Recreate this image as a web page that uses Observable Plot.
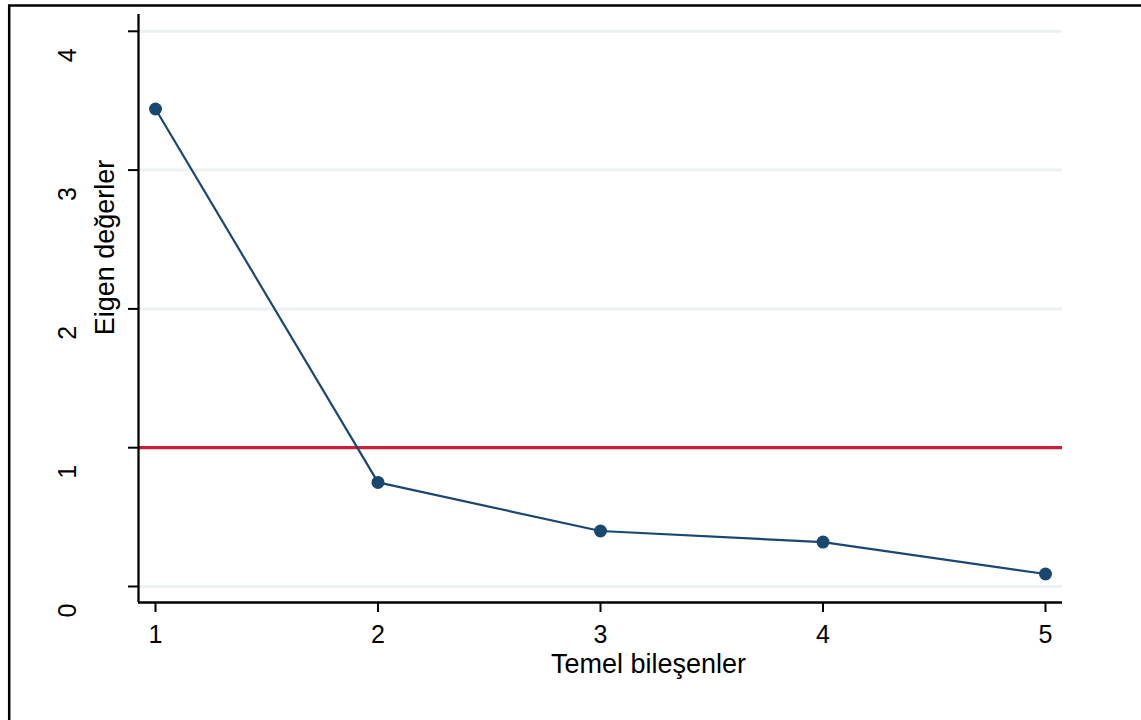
<!DOCTYPE html>
<html>
<head>
<meta charset="utf-8">
<script src="https://cdn.jsdelivr.net/npm/d3@7"></script>
<script src="https://cdn.jsdelivr.net/npm/@observablehq/plot@0.6"></script>
<style>
  html, body { margin: 0; padding: 0; background: #fff; }
  svg { display: block; }
</style>
</head>
<body>
<div id="chart"></div>
<script>
// Data
const components = [1, 2, 3, 4, 5];
const eigenvalues = [3.44, 0.75, 0.40, 0.32, 0.09];
const yTicks = [0, 1, 2, 3, 4];
const xTicks = [1, 2, 3, 4, 5];
const threshold = [1];
const xTitle = "Temel bileşenler";
const yTitle = "Eigen değerler";

const data = components.map((c, i) => ({ c, v: eigenvalues[i] }));
const xDomain = [0.9236, 5.0764];
const yDomain = [-0.1153, 4.121];

const font = "Liberation Sans, Arial, Helvetica, sans-serif";

const chart = Plot.plot({
  width: 1141,
  height: 720,
  marginLeft: 138,
  marginRight: 79,
  marginTop: 14,
  marginBottom: 118,
  style: { fontFamily: font, background: "#fff", overflow: "hidden" },
  x: { domain: xDomain, axis: null },
  y: { domain: yDomain, axis: null },
  marks: [
    // outer frame
    Plot.frame({ stroke: "#000", strokeWidth: 2.5, insetLeft: -129.3, insetTop: -9, insetRight: -120, insetBottom: -160 }),
    // gridlines
    Plot.ruleY(yTicks, { y: d => d, stroke: "#eaf2f3", strokeWidth: 3 }),
    // threshold line
    Plot.ruleY(threshold, { y: d => d, stroke: "#c8203a", strokeWidth: 3.2 }),
    // axis lines
    Plot.ruleX([xDomain[0]], { x: d => d, y1: yDomain[0], y2: yDomain[1], stroke: "#000", strokeWidth: 2.3 }),
    Plot.ruleY([yDomain[0]], { y: d => d, x1: xDomain[0], x2: xDomain[1], stroke: "#000", strokeWidth: 2.3 }),
    // y ticks
    Plot.axisY({ ticks: yTicks, tickSize: 10, tickFormat: () => "", stroke: "#000", strokeWidth: 2, label: null }),
    // y tick labels (rotated)
    Plot.text(yTicks, { y: d => d, text: d => String(d), frameAnchor: "left", textAnchor: "middle", dx: -71, dy: 24, rotate: -90, fontSize: 25, fill: "#000" }),
    // x ticks & labels
    Plot.axisX({ ticks: xTicks, tickSize: 10, tickPadding: 13, fontSize: 25, stroke: "#000", strokeWidth: 2, fill: "#000", label: null, tickFormat: d => String(d) }),
    // series
    Plot.line(data, { x: "c", y: "v", stroke: "#1a476f", strokeWidth: 2.2 }),
    Plot.dot(data, { x: "c", y: "v", r: 6.5, fill: "#1a476f", stroke: "none" }),
    // axis titles
    Plot.text([xTitle], { text: d => d, frameAnchor: "bottom", textAnchor: "middle", dx: 48, dy: 70, lineAnchor: "bottom", fontSize: 27, fill: "#000" }),
    Plot.text([yTitle], { text: d => d, frameAnchor: "left", textAnchor: "middle", dx: -25, dy: -61, lineAnchor: "bottom", rotate: -90, fontSize: 27, fill: "#000" })
  ]
});

document.getElementById("chart").appendChild(chart);
</script>
</body>
</html>
